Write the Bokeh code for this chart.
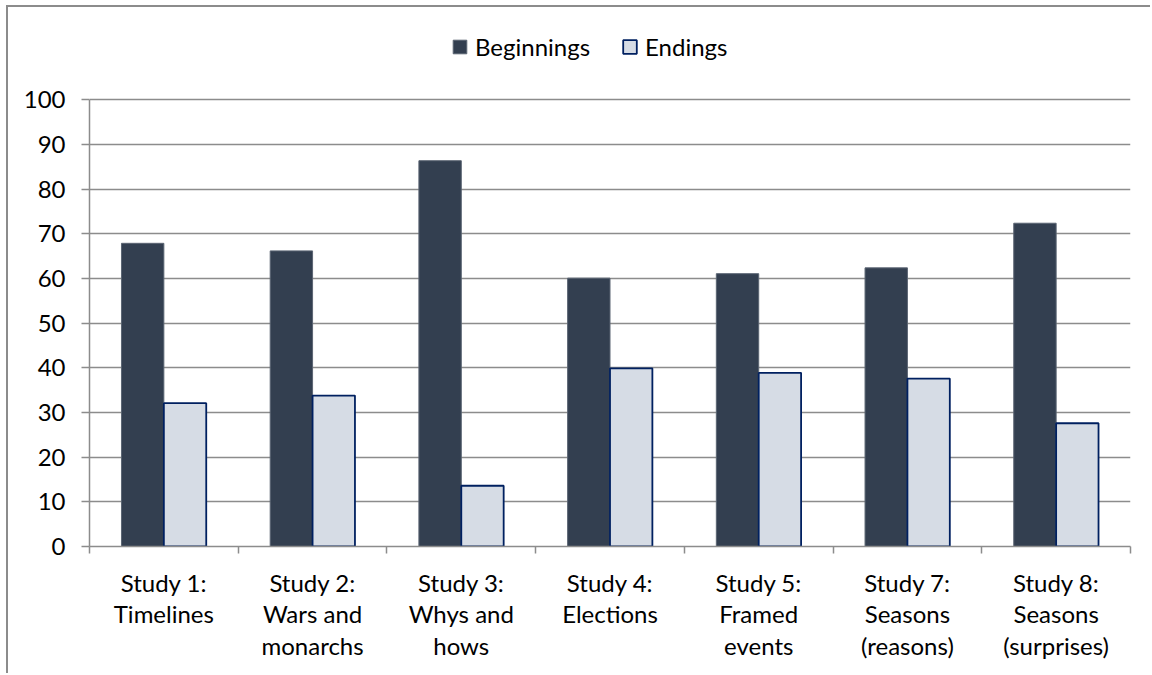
from bokeh.plotting import figure
from bokeh.models import (ColumnDataSource, FixedTicker, Legend, LegendItem,
                          Range1d)
from bokeh.transform import dodge
from bokeh.embed import file_html
from bokeh.resources import INLINE

# Share of responses per study (percent)
studies = [
    "Study 1:\nTimelines",
    "Study 2:\nWars and\nmonarchs",
    "Study 3:\nWhys and\nhows",
    "Study 4:\nElections",
    "Study 5:\nFramed\nevents",
    "Study 7:\nSeasons\n(reasons)",
    "Study 8:\nSeasons\n(surprises)",
]
beginnings = [67.9, 66.2, 86.4, 60.1, 61.1, 62.4, 72.4]
endings = [32.1, 33.8, 13.6, 39.9, 38.9, 37.6, 27.6]
y_ticks = [0, 10, 20, 30, 40, 50, 60, 70, 80, 90, 100]

FONT = "Lato"
FONT_SIZE = "24px"
GRID = "#8c8c8c"

positions = list(range(1, len(studies) + 1))
src = ColumnDataSource(dict(x=positions, beg=beginnings, end=endings))

# the frame runs a little above 100 so the legend can sit inside it;
# axis line and grid stop at 100
p = figure(width=1144, height=668, output_backend="svg", toolbar_location=None,
           x_range=Range1d(0.5, len(studies) + 0.5), y_range=Range1d(0, 117.8),
           min_border_left=81, min_border_right=22, min_border_top=13,
           min_border_bottom=129)
p.outline_line_color = None
p.background_fill_color = "white"
p.border_fill_color = "white"
# chart border along the top and left edges
p.styles = {"margin-left": "6px", "margin-top": "5px",
            "border-top": f"2px solid {GRID}", "border-left": f"2px solid {GRID}"}

bw = 0.285
r_beg = p.vbar(x=dodge("x", -bw / 2, range=p.x_range), top="beg", width=bw,
               source=src, fill_color="#333F50", line_color="#5b6573",
               line_width=1)
r_end = p.vbar(x=dodge("x", bw / 2, range=p.x_range), top="end", width=bw,
               source=src, fill_color="#D6DCE5", line_color="#002060",
               line_width=1.8)

# x axis: labels at category centres, tick marks at category boundaries
xa = p.xaxis[0]
xa.ticker = FixedTicker(ticks=positions,
                        minor_ticks=[i + 0.5 for i in range(len(studies) + 1)])
xa.major_label_overrides = {pos: lab for pos, lab in zip(positions, studies)}
xa.major_tick_out = 0
xa.major_tick_in = 0
xa.minor_tick_out = 7
xa.minor_tick_in = 0
xa.minor_tick_line_color = GRID
xa.minor_tick_line_width = 1.5
xa.major_label_standoff = 14
xa.major_label_text_line_height = 1.1

ya = p.yaxis[0]
ya.ticker = FixedTicker(ticks=y_ticks)
ya.bounds = (0, 100)
ya.major_tick_out = 8
ya.major_tick_in = 0
ya.major_tick_line_color = GRID
ya.major_tick_line_width = 1.5
ya.minor_tick_line_color = None
ya.major_label_standoff = 16

for ax in (xa, ya):
    ax.axis_line_color = GRID
    ax.axis_line_width = 1.5
    ax.major_label_text_font = FONT
    ax.major_label_text_font_size = FONT_SIZE
    ax.major_label_text_color = "black"

p.xgrid.grid_line_color = None
p.ygrid.grid_line_color = GRID
p.ygrid.grid_line_width = 1.5

legend = Legend(items=[LegendItem(label="Beginnings", renderers=[r_beg]),
                       LegendItem(label="Endings", renderers=[r_end])],
                orientation="horizontal", location=(362, 485))
legend.glyph_width = 17
legend.glyph_height = 17
legend.label_standoff = 7
legend.spacing = 31
legend.padding = 0
legend.margin = 0
legend.border_line_color = None
legend.background_fill_alpha = 0
legend.label_text_font = FONT
legend.label_text_font_size = FONT_SIZE
legend.label_text_color = "black"
p.add_layout(legend)

open("out.html", "w").write(file_html(p, INLINE))
